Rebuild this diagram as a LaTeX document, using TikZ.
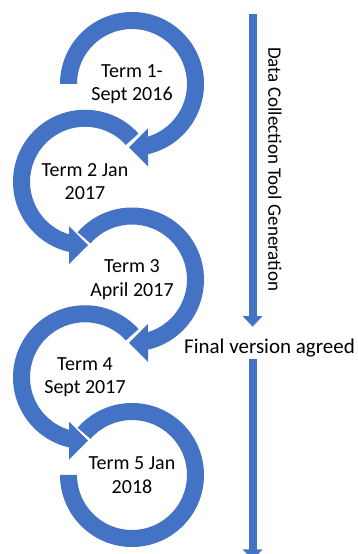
\documentclass[tikz,border=0pt]{standalone}
\usepackage{fontspec}
\setmainfont{Carlito}
\usepackage{tikz}
\usetikzlibrary{calc,arrows.meta}
\definecolor{arrowblue}{HTML}{4472C4}
\tikzstyle{band} = [fill=arrowblue]
\tikzstyle{term} = [align=center,font=\fontsize{20}{23.5}\selectfont,inner sep=0pt]
\tikzstyle{bar} = [draw=arrowblue,line width=8pt,-{Triangle[width=19pt,length=10.5pt]}]

\begin{document}
\begin{tikzpicture}[x=1pt,y=1pt]
  \clip (0,0) rectangle (358,554);
  \coordinate (c1) at (132,470);
  \coordinate (c2) at (85,372.25);
  \coordinate (c3) at (132,274.5);
  \coordinate (c4) at (85,176.75);
  \coordinate (c5) at (132,79);
  % circular arrows
  \path[band] ($(c5)+(139:72)$) arc[start angle=139,end angle=-180,radius=72pt]
    -- ($(c5)+(-180:55)$) arc[start angle=-180,end angle=139,radius=55pt] -- cycle;
  \path[band] ($(c4)+(42:72)$) arc[start angle=42,end angle=257.16,radius=72pt]
    -- ($(c4)+(-16,-82.5)$) -- ($(c4)+(3,-63.5)$) -- ($(c4)+(-16,-44.5)$)
    -- ($(c4)+(253.1:55)$) arc[start angle=253.1,end angle=42,radius=55pt] -- cycle;
  \path[band] ($(c3)+(139:72)$) arc[start angle=139,end angle=-77.16,radius=72pt]
    -- ($(c3)+(16,-82.5)$) -- ($(c3)+(-3,-63.5)$) -- ($(c3)+(16,-44.5)$)
    -- ($(c3)+(-73.1:55)$) arc[start angle=-73.1,end angle=139,radius=55pt] -- cycle;
  \path[band] ($(c2)+(42:72)$) arc[start angle=42,end angle=257.16,radius=72pt]
    -- ($(c2)+(-16,-82.5)$) -- ($(c2)+(3,-63.5)$) -- ($(c2)+(-16,-44.5)$)
    -- ($(c2)+(253.1:55)$) arc[start angle=253.1,end angle=42,radius=55pt] -- cycle;
  \path[band] ($(c1)+(180:72)$) arc[start angle=180,end angle=-77.16,radius=72pt]
    -- ($(c1)+(16,-82.5)$) -- ($(c1)+(-3,-63.5)$) -- ($(c1)+(16,-44.5)$)
    -- ($(c1)+(-73.1:55)$) arc[start angle=-73.1,end angle=180,radius=55pt] -- cycle;
  % terms
  \node[term] (t1) at (c1) {Term 1-\\Sept 2016};
  \node[term] (t2) at (c2) {Term 2 Jan\\2017};
  \node[term] (t3) at (c3) {Term 3\\April 2017};
  \node[term] (t4) at (c4) {Term 4\\Sept 2017};
  \node[term] (t5) at (c5) {Term 5 Jan\\2018};
  % right hand side
  \coordinate (top) at (252.6,540);
  \coordinate (head1) at (252.6,227.3);
  \coordinate (tail2) at (252.6,195);
  \coordinate (bottom) at (252.6,-6);
  \node[term,anchor=base,font=\fontsize{21}{25}\selectfont] (agreed) at (269.5,200.7) {Final version agreed};
  \node[term,rotate=-90,font=\fontsize{19}{23}\selectfont] (gen) at (275,384.8) {Data Collection Tool Generation};
  \draw[bar] (top) -- (head1);
  \draw[bar] (tail2) -- (bottom);
\end{tikzpicture}
\end{document}
